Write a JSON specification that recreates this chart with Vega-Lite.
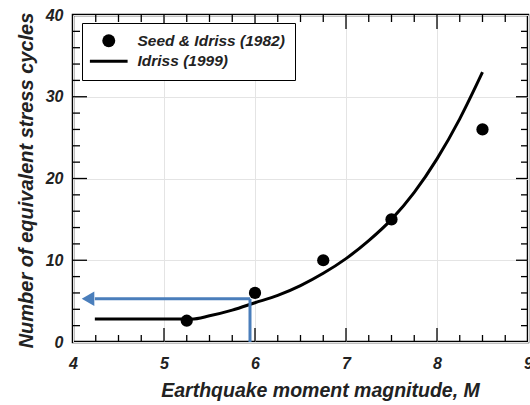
{
  "$schema": "https://vega.github.io/schema/vega-lite/v6.json",
  "width": 455,
  "height": 327,
  "autosize": {"type": "none"},
  "padding": {"left": 73, "top": 15, "right": 2, "bottom": 63},
  "background": "white",
  "config": {
    "view": {"stroke": "black", "strokeWidth": 2.5},
    "font": "Liberation Sans",
    "axis": {
      "domain": false,
      "ticks": false,
      "labelFont": "Liberation Sans",
      "labelFontStyle": "italic",
      "labelFontWeight": "bold",
      "labelFontSize": 16,
      "labelColor": "#222",
      "titleFont": "Liberation Sans",
      "titleFontStyle": "italic",
      "titleFontWeight": "bold",
      "titleColor": "#222"
    }
  },
  "datasets": {
    "idriss1999": [
      {"magnitude": 4.24, "cycles": 2.8},
      {"magnitude": 5.0, "cycles": 2.8},
      {"magnitude": 5.3, "cycles": 2.8},
      {"magnitude": 5.5, "cycles": 3.2},
      {"magnitude": 5.75, "cycles": 3.9},
      {"magnitude": 6.0, "cycles": 4.8},
      {"magnitude": 6.25, "cycles": 5.7},
      {"magnitude": 6.5, "cycles": 6.9},
      {"magnitude": 6.75, "cycles": 8.4},
      {"magnitude": 7.0, "cycles": 10.2},
      {"magnitude": 7.25, "cycles": 12.4},
      {"magnitude": 7.5, "cycles": 15.0},
      {"magnitude": 7.75, "cycles": 18.3},
      {"magnitude": 8.0, "cycles": 22.4},
      {"magnitude": 8.25, "cycles": 27.3},
      {"magnitude": 8.5, "cycles": 33.0}
    ],
    "seedIdriss1982": [
      {"magnitude": 5.25, "cycles": 2.6, "series": "Seed & Idriss (1982)"},
      {"magnitude": 6.0, "cycles": 6.0, "series": "Seed & Idriss (1982)"},
      {"magnitude": 6.75, "cycles": 10.0, "series": "Seed & Idriss (1982)"},
      {"magnitude": 7.5, "cycles": 15.0, "series": "Seed & Idriss (1982)"},
      {"magnitude": 8.5, "cycles": 26.0, "series": "Seed & Idriss (1982)"}
    ],
    "readout": [
      {"m1": 5.945, "n1": 0, "m2": 5.945, "n2": 5.3},
      {"m1": 5.945, "n1": 5.3, "m2": 4.24, "n2": 5.3}
    ],
    "arrowhead": [
      {"magnitude": 4.165, "cycles": 5.3}
    ],
    "magMajor": [{"m": 5}, {"m": 6}, {"m": 7}, {"m": 8}],
    "magMinor": [
      {"m": 4.25}, {"m": 4.5}, {"m": 4.75},
      {"m": 5.25}, {"m": 5.5}, {"m": 5.75},
      {"m": 6.25}, {"m": 6.5}, {"m": 6.75},
      {"m": 7.25}, {"m": 7.5}, {"m": 7.75},
      {"m": 8.25}, {"m": 8.5}, {"m": 8.75}
    ],
    "cycMajor": [{"n": 10}, {"n": 20}, {"n": 30}],
    "cycMinor": [
      {"n": 2}, {"n": 4}, {"n": 6}, {"n": 8},
      {"n": 12}, {"n": 14}, {"n": 16}, {"n": 18},
      {"n": 22}, {"n": 24}, {"n": 26}, {"n": 28},
      {"n": 32}, {"n": 34}, {"n": 36}, {"n": 38}
    ]
  },
  "layer": [
    {
      "data": {"name": "idriss1999"},
      "mark": {"type": "line", "color": "black", "strokeWidth": 3, "interpolate": "monotone"},
      "encoding": {
        "x": {
          "field": "magnitude", "type": "quantitative",
          "scale": {"domain": [4, 9], "nice": false},
          "axis": {
            "orient": "bottom", "values": [4, 5, 6, 7, 8, 9], "format": "d",
            "labelPadding": 13, "labelFlush": false,
            "grid": true, "gridColor": "#e4e4e4", "gridWidth": 1,
            "title": "Earthquake moment magnitude, M", "titleFontSize": 19.5,
            "titleX": 247, "titleY": 54, "titleBaseline": "alphabetic", "titleAnchor": "middle"
          }
        },
        "y": {
          "field": "cycles", "type": "quantitative",
          "scale": {"domain": [0, 40], "nice": false},
          "axis": {
            "orient": "left", "values": [0, 10, 20, 30, 40], "format": "d",
            "labelPadding": 10,
            "grid": true, "gridColor": "#e4e4e4", "gridWidth": 1,
            "title": "Number of equivalent stress cycles", "titleFontSize": 20,
            "titleX": -41, "titleY": 165, "titleBaseline": "alphabetic", "titleAnchor": "middle", "titleAngle": -90
          }
        }
      }
    },
    {
      "data": {"name": "magMajor"},
      "mark": {"type": "point", "shape": "M0,-1V1", "size": 196, "yOffset": -7, "filled": false, "strokeWidth": 1.3, "color": "black", "opacity": 1},
      "encoding": {
        "x": {"field": "m", "type": "quantitative"},
        "y": {"datum": 0, "type": "quantitative"}
      }
    },
    {
      "data": {"name": "magMajor"},
      "mark": {"type": "point", "shape": "M0,-1V1", "size": 196, "yOffset": 7, "filled": false, "strokeWidth": 1.3, "color": "black", "opacity": 1},
      "encoding": {
        "x": {"field": "m", "type": "quantitative"},
        "y": {"datum": 40, "type": "quantitative"}
      }
    },
    {
      "data": {"name": "magMinor"},
      "mark": {"type": "point", "shape": "M0,-1V1", "size": 49, "yOffset": -3.5, "filled": false, "strokeWidth": 1.3, "color": "black", "opacity": 1},
      "encoding": {
        "x": {"field": "m", "type": "quantitative"},
        "y": {"datum": 0, "type": "quantitative"}
      }
    },
    {
      "data": {"name": "magMinor"},
      "mark": {"type": "point", "shape": "M0,-1V1", "size": 49, "yOffset": 3.5, "filled": false, "strokeWidth": 1.3, "color": "black", "opacity": 1},
      "encoding": {
        "x": {"field": "m", "type": "quantitative"},
        "y": {"datum": 40, "type": "quantitative"}
      }
    },
    {
      "data": {"name": "cycMajor"},
      "mark": {"type": "point", "shape": "M-1,0H1", "size": 196, "xOffset": 7, "filled": false, "strokeWidth": 1.3, "color": "black", "opacity": 1},
      "encoding": {
        "y": {"field": "n", "type": "quantitative"},
        "x": {"datum": 4, "type": "quantitative"}
      }
    },
    {
      "data": {"name": "cycMajor"},
      "mark": {"type": "point", "shape": "M-1,0H1", "size": 144, "xOffset": -6, "filled": false, "strokeWidth": 1.3, "color": "black", "opacity": 1},
      "encoding": {
        "y": {"field": "n", "type": "quantitative"},
        "x": {"datum": 9, "type": "quantitative"}
      }
    },
    {
      "data": {"name": "cycMinor"},
      "mark": {"type": "point", "shape": "M-1,0H1", "size": 49, "xOffset": 3.5, "filled": false, "strokeWidth": 1.3, "color": "black", "opacity": 1},
      "encoding": {
        "y": {"field": "n", "type": "quantitative"},
        "x": {"datum": 4, "type": "quantitative"}
      }
    },
    {
      "data": {"name": "cycMinor"},
      "mark": {"type": "point", "shape": "M-1,0H1", "size": 49, "xOffset": -3.5, "filled": false, "strokeWidth": 1.3, "color": "black", "opacity": 1},
      "encoding": {
        "y": {"field": "n", "type": "quantitative"},
        "x": {"datum": 9, "type": "quantitative"}
      }
    },
    {
      "data": {"name": "seedIdriss1982"},
      "mark": {"type": "point", "filled": true, "color": "black", "size": 150, "opacity": 1},
      "encoding": {
        "x": {"field": "magnitude", "type": "quantitative"},
        "y": {"field": "cycles", "type": "quantitative"},
        "shape": {
          "field": "series", "type": "nominal",
          "scale": {
            "domain": ["Seed & Idriss (1982)", "Idriss (1999)"],
            "range": ["circle", "M-2.9,-0.23H2.9V0.23H-2.9Z"]
          },
          "legend": {
            "title": null,
            "orient": "none", "legendX": 9, "legendY": 8,
            "fillColor": "white", "strokeColor": "black",
            "padding": 10, "rowPadding": 3.5,
            "symbolSize": 169, "symbolOffset": 9,
            "symbolFillColor": "black", "symbolStrokeWidth": 0,
            "labelOffset": 21,
            "labelFont": "Liberation Sans", "labelFontStyle": "italic", "labelFontWeight": "bold",
            "labelFontSize": 15.5, "labelColor": "#222",
            "encode": {
              "legend": {"update": {"strokeWidth": {"value": 2}}},
              "symbols": {"update": {"fill": {"value": "black"}, "opacity": {"value": 1}}}
            }
          }
        }
      }
    },
    {
      "data": {"name": "readout"},
      "mark": {"type": "rule", "color": "#4a7ebb", "strokeWidth": 3},
      "encoding": {
        "x": {"field": "m1", "type": "quantitative"},
        "x2": {"field": "m2"},
        "y": {"field": "n1", "type": "quantitative"},
        "y2": {"field": "n2"}
      }
    },
    {
      "data": {"name": "arrowhead"},
      "mark": {"type": "point", "shape": "triangle-left", "filled": true, "color": "#4a7ebb", "size": 210, "opacity": 1},
      "encoding": {
        "x": {"field": "magnitude", "type": "quantitative"},
        "y": {"field": "cycles", "type": "quantitative"}
      }
    }
  ]
}
